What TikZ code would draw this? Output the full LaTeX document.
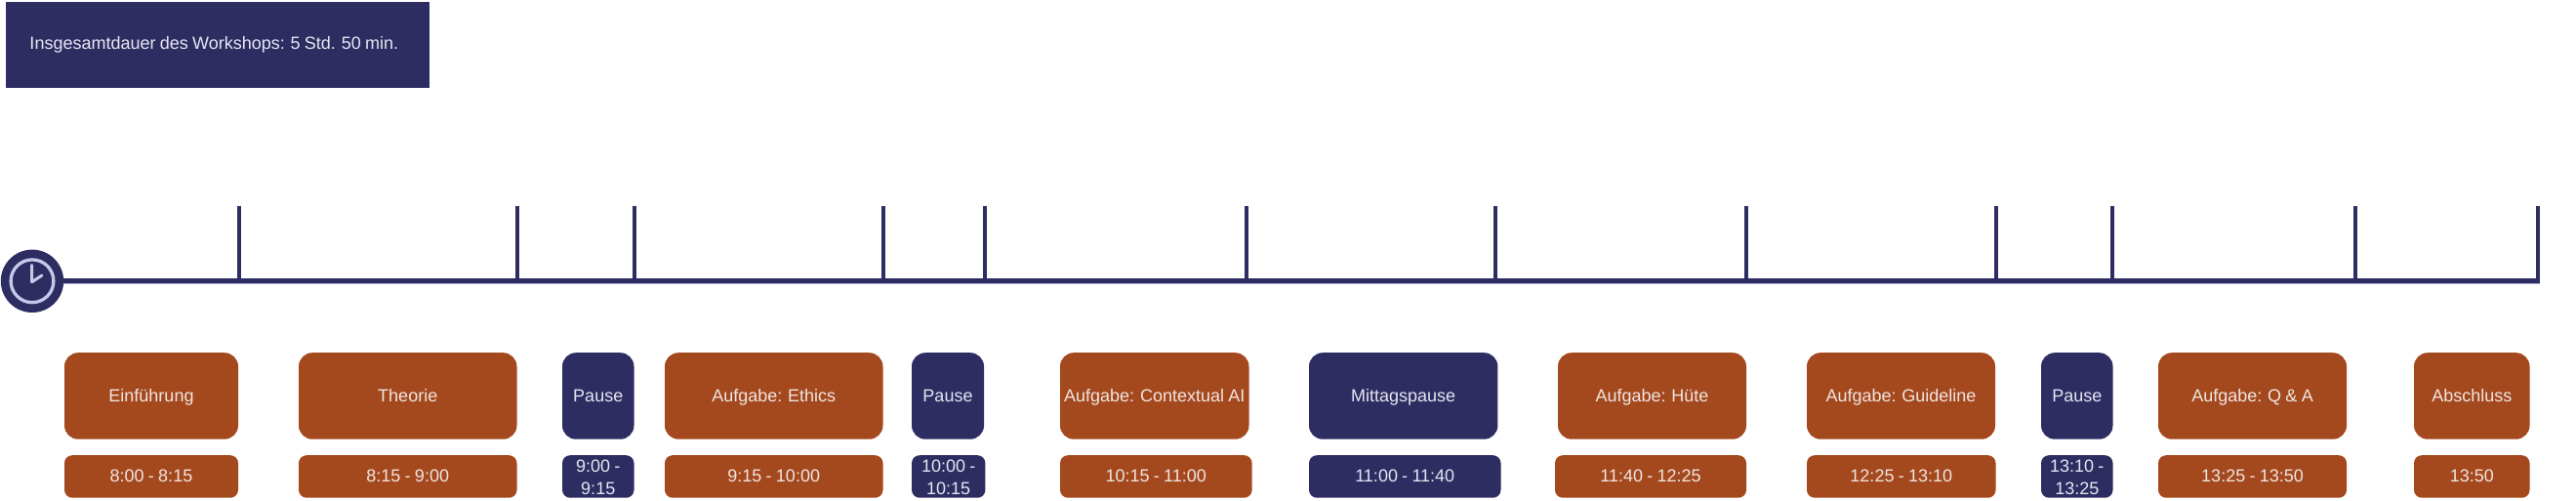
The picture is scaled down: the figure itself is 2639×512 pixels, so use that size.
\documentclass[tikz,border=0pt]{standalone}
\usepackage{fontspec}
\setmainfont[WordSpace=0.85]{Liberation Sans}
\definecolor{navy}{HTML}{2E2D62}
\definecolor{rust}{HTML}{A4481E}
\definecolor{ring}{HTML}{C5C9E9}
\definecolor{labelcol}{HTML}{F1E6E2}
\definecolor{labelnavy}{HTML}{E6E6F2}
\definecolor{haze}{HTML}{A9ABD0}
\tikzset{
  box/.style={inner sep=0pt,outer sep=0pt,draw=none,align=center,
    font=\fontsize{18}{23}\selectfont},
  big/.style={box,rounded corners=14pt,text height=12.7pt,text depth=1pt},
  small/.style={box,rounded corners=8pt,text height=12.7pt,text depth=0.7pt},
  twoline/.style={box,rounded corners=8pt},
  workfill/.style={fill=rust,text=labelcol},
  breakfill/.style={fill=navy,text=labelnavy},
  axisline/.style={draw=navy,line width=4.7pt},
  axishaze/.style={draw=haze,line width=5.7pt},
  tickline/.style={draw=navy,line width=4.6pt},
  clockline/.style={draw=ring,line width=3.3pt},
  handline/.style={draw=ring,line width=3pt,line cap=round,line join=round},
}
\newcommand{\slot}[7]{%
  \pgfmathsetmacro{\cxv}{(#3+#5)/2}%
  \pgfmathsetmacro{\cyv}{(#4+#6)/2}%
  \pgfmathsetmacro{\wv}{#5-#3}%
  \pgfmathsetmacro{\hv}{#6-#4}%
  \node[#2,minimum width=\wv pt,minimum height=\hv pt] (#1) at (\cxv,\cyv) {#7};%
}
\newcommand{\firstline}{\rule{0pt}{15pt}}
\begin{document}
\begin{tikzpicture}[x=1pt,y=-1pt]
\useasboundingbox (0,0) rectangle (2639,512);
% header
\node[box,fill=navy,text=labelnavy,anchor=north west,minimum width=434pt,minimum height=88.2pt,
  text width=385pt,inner xsep=24.5pt,align=flush left,text height=13pt,text depth=2.4pt] (header) at (6,1.5) {Insgesamtdauer des Workshops: 5 Std. 50 min.};
% clock
\node[circle,fill=navy,minimum size=64.4pt,inner sep=0pt,outer sep=0pt] (clock) at (33,287.8) {};
\coordinate (axisendh) at (2602,287.85);
\coordinate (axisendn) at (2602,287.35);
% axis
\draw[axishaze] (clock.east |- axisendh) -- (axisendh);
\draw[axisline] (clock.east |- axisendn) -- (axisendn);
% ticks
\foreach \n/\x in {1/245,2/530,3/650,4/905,5/1009,6/1277,7/1532,8/1789,9/2045,10/2164,11/2413,12/2600}{
  \coordinate (top\n) at (\x,210.7);
  \coordinate (foot\n) at (\x,287);
  \draw[tickline] (top\n) -- (foot\n);
}
% clock face
\draw[clockline] (clock.center) circle[radius=21.9pt];
\coordinate (handtop) at (32.7,271.5);
\coordinate (handpivot) at (32.7,288.7);
\coordinate (handtip) at (43,282);
\draw[handline] (handtop) -- (handpivot) -- (handtip);
% top row
\slot{a1}{big,workfill}{66}{361.2}{244}{449.7}{Einführung}
\slot{a2}{big,workfill}{306}{361.2}{529.5}{449.7}{Theorie}
\slot{a3}{big,breakfill}{576}{361.2}{649.5}{449.7}{Pause}
\slot{a4}{big,workfill}{681}{361.2}{904.5}{449.7}{Aufgabe: Ethics}
\slot{a5}{big,breakfill}{934}{361.2}{1008}{449.7}{Pause}
\slot{a6}{big,workfill}{1086}{361.2}{1279.5}{449.7}{Aufgabe: Contextual AI}
\slot{a7}{big,breakfill}{1341}{361.2}{1534.4}{449.7}{Mittagspause}
\slot{a8}{big,workfill}{1596}{361.2}{1789}{449.7}{Aufgabe: Hüte}
\slot{a9}{big,workfill}{1851}{361.2}{2044}{449.7}{Aufgabe: Guideline}
\slot{a10}{big,breakfill}{2091}{361.2}{2164.5}{449.7}{Pause}
\slot{a11}{big,workfill}{2211}{361.2}{2404}{449.7}{Aufgabe: Q \& A}
\slot{a12}{big,workfill}{2473}{361.2}{2591.5}{449.7}{Abschluss}
% bottom row
\slot{b1}{small,workfill}{66}{466.2}{244}{509.7}{8:00 - 8:15}
\slot{b2}{small,workfill}{306}{466.2}{529.5}{509.7}{8:15 - 9:00}
\slot{b3}{twoline,breakfill}{576}{466.2}{649.5}{509.7}{\firstline 9:00 -\\9:15}
\slot{b4}{small,workfill}{681}{466.2}{904.5}{509.7}{9:15 - 10:00}
\slot{b5}{twoline,breakfill}{934}{466.2}{1009.4}{509.7}{\firstline 10:00 -\\10:15}
\slot{b6}{small,workfill}{1086}{466.2}{1282.6}{509.7}{10:15 - 11:00}
\slot{b7}{small,breakfill}{1341}{466.2}{1537.5}{509.7}{11:00 - 11:40}
\slot{b8}{small,workfill}{1593}{466.2}{1789}{509.7}{11:40 - 12:25}
\slot{b9}{small,workfill}{1851}{466.2}{2044.5}{509.7}{12:25 - 13:10}
\slot{b10}{twoline,breakfill}{2091}{466.2}{2164.5}{509.7}{\firstline 13:10 -\\13:25}
\slot{b11}{small,workfill}{2211}{466.2}{2404}{509.7}{13:25 - 13:50}
\slot{b12}{small,workfill}{2473}{466.2}{2591.5}{509.7}{13:50}
\end{tikzpicture}
\end{document}
